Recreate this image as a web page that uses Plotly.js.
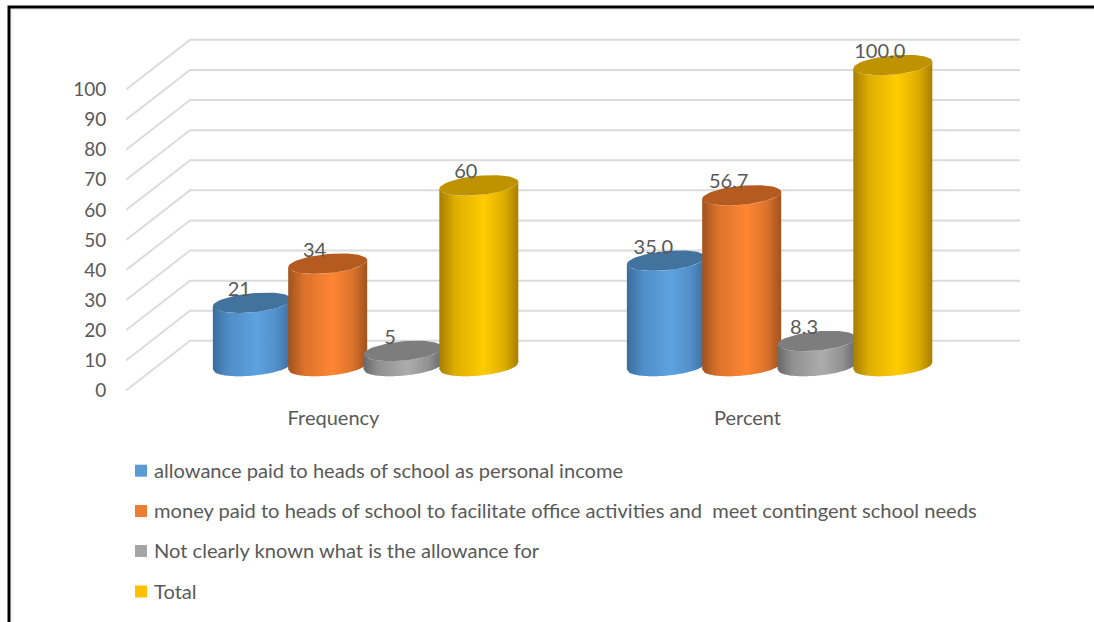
<!DOCTYPE html>
<html>
<head>
<meta charset="utf-8">
<script src="https://cdn.plot.ly/plotly-3.0.1.min.js"></script>
<style>
html, body { margin: 0; padding: 0; background: #fff; }
#chart { width: 1094px; height: 622px; }
</style>
</head>
<body>
<div id="chart"></div>
<script>
// Survey responses on the allowance paid to heads of school
const categories = ["Frequency", "Percent"];
const seriesNames = [
  "allowance paid to heads of school as personal income",
  "money paid to heads of school to facilitate office activities and  meet contingent school needs",
  "Not clearly known what is the allowance for",
  "Total"
];
const allowanceValues = [21, 35.0];
const moneyValues = [34, 56.7];
const unclearValues = [5, 8.3];
const totalValues = [60, 100.0];
const yTicks = [0, 10, 20, 30, 40, 50, 60, 70, 80, 90, 100];

const seriesValues = [allowanceValues, moneyValues, unclearValues, totalValues];
const labelDecimals = [0, 1];
const swatchColors = ["#5b9bd5", "#ed7d31", "#a5a5a5", "#ffc000"];
const lightColors = [[94, 162, 224], [255, 134, 51], [172, 172, 172], [255, 204, 0]];
const darkColors = [[58, 108, 156], [160, 82, 30], [104, 104, 104], [168, 126, 0]];
const capColors = ["#42739f", "#b55b20", "#7d7d7d", "#bf9300"];

// Pseudo-3D geometry, in pixels of the drawing area
const W = 1094, H = 622;
const M = { l: 126, r: 74, t: 30, b: 227 };
const pxPerCategory = 414, pxPerUnit = 3.01;
const firstCategoryPx = 333.5, frontZeroPx = 390.5;
const wallDepthUnits = 16.5, wallDepthPx = 64;
const cylinderFloorUnits = 8.14;
const cylinderOffsets = [-0.196, -0.014, 0.168, 0.351];
const cylinderHalf = 39.5 / pxPerCategory;
const capB = 9.6, capTilt = 3.5;
const bands = 40;

const xMin = (M.l - firstCategoryPx) / pxPerCategory;
const xMax = (W - M.r - firstCategoryPx) / pxPerCategory;
const yMax = (frontZeroPx - M.t) / pxPerUnit;
const yMin = (frontZeroPx - (H - M.b)) / pxPerUnit;

const traces = [];

// Back wall gridlines with their slanted side-wall segments
const gridX = [], gridY = [];
yTicks.forEach(v => {
  gridX.push(xMin, xMin + wallDepthPx / pxPerCategory, xMax, null);
  gridY.push(v, v + wallDepthUnits, v + wallDepthUnits, null);
});
traces.push({
  type: "scatter", mode: "lines", x: gridX, y: gridY, showlegend: false, hoverinfo: "skip",
  line: { color: "#dcdcdc", width: 2 }, cliponaxis: false
});

// Left-to-right shading across a cylinder's body
function bandColor(s, u) {
  const stops = [[0, 0], [0.2, 0.62], [0.56, 1], [0.82, 0.62], [1, 0]];
  let k = 0;
  for (let i = 0; i < stops.length - 1; i++) {
    if (u >= stops[i][0] && u <= stops[i + 1][0]) {
      k = stops[i][1] + (stops[i + 1][1] - stops[i][1]) * (u - stops[i][0]) / (stops[i + 1][0] - stops[i][0]);
    }
  }
  const c = lightColors[s].map((l, i) => Math.round(darkColors[s][i] + (l - darkColors[s][i]) * k));
  return "rgb(" + c.join(",") + ")";
}

// Height of the ellipse's front edge at a position u in [-1, 1], in value units
function frontEdge(u) {
  return (capTilt * u - capB * Math.sqrt(Math.max(0, 1 - u * u))) / pxPerUnit;
}

seriesNames.forEach((name, s) => {
  const values = seriesValues[s];
  const centers = categories.map((_, c) => c + cylinderOffsets[s]);

  for (let b = 0; b < bands; b++) {
    const u1 = -1 + 2 * b / bands;
    const u2 = Math.min(1, -1 + 2 * (b + 1.4) / bands);
    const xs = [], ys = [];
    values.forEach((v, c) => {
      const x1 = centers[c] + u1 * cylinderHalf, x2 = centers[c] + u2 * cylinderHalf;
      const floor = cylinderFloorUnits;
      xs.push(x1, x2, x2, x1, x1, null);
      ys.push(floor + v + frontEdge(u1), floor + v + frontEdge(u2),
              floor + frontEdge(u2), floor + frontEdge(u1), floor + v + frontEdge(u1), null);
    });
    traces.push({
      type: "scatter", mode: "lines", x: xs, y: ys, name: name, showlegend: false, hoverinfo: "skip",
      fill: "toself", fillcolor: bandColor(s, (b + 0.5) / bands), line: { width: 0 }
    });
  }

  // Flat top of each cylinder
  const capX = [], capY = [];
  values.forEach((v, c) => {
    for (let i = 0; i <= 64; i++) {
      const t = 2 * Math.PI * i / 64;
      capX.push(centers[c] + cylinderHalf * Math.cos(t));
      capY.push(cylinderFloorUnits + v + (capB * Math.sin(t) + capTilt * Math.cos(t)) / pxPerUnit);
    }
    capX.push(null); capY.push(null);
  });
  traces.push({
    type: "scatter", mode: "lines", x: capX, y: capY, name: name, showlegend: false, hoverinfo: "skip",
    fill: "toself", fillcolor: capColors[s], line: { width: 0 }
  });
});

// Value labels sit above the caps, slightly left of centre
seriesNames.forEach((name, s) => {
  const values = seriesValues[s];
  traces.push({
    type: "scatter", mode: "text", name: name, showlegend: false, hoverinfo: "skip", cliponaxis: false,
    x: categories.map((_, c) => c + cylinderOffsets[s] - 13 / pxPerCategory),
    y: values.map(v => cylinderFloorUnits + v + 12 / pxPerUnit),
    text: values.map((v, c) => v.toFixed(labelDecimals[c])),
    textposition: "middle center",
    textfont: { family: "Lato, sans-serif", size: 20, color: "#595959" }
  });
});

// Legend rows laid out by hand, tight swatch-to-text spacing
const plotW = W - M.l - M.r, plotH = H - M.t - M.b;
const paperX = px => (px - M.l) / plotW;
const paperY = py => (H - M.b - py) / plotH;
const legendRows = [470.7, 511, 551, 591.5];

const shapes = [];
const annotations = [];
seriesNames.forEach((name, s) => {
  const yc = legendRows[s];
  shapes.push({
    type: "rect", xref: "paper", yref: "paper",
    x0: paperX(135), x1: paperX(147), y0: paperY(yc - 6), y1: paperY(yc + 6),
    fillcolor: swatchColors[s], line: { width: 0 }
  });
  annotations.push({
    xref: "paper", yref: "paper", x: paperX(152), y: paperY(yc - 1),
    xanchor: "left", yanchor: "middle", showarrow: false, text: name,
    font: { family: "Lato, sans-serif", size: 20.1, color: "#595959" }
  });
});

// Outer frame: left and top rules with a faint inner edge
shapes.push({
  type: "path", xref: "paper", yref: "paper",
  path: "M" + paperX(12) + "," + paperY(622) + " L" + paperX(12) + "," + paperY(9.5) + " L" + paperX(1094) + "," + paperY(9.5),
  line: { color: "#ececec", width: 1 }
});
shapes.push({
  type: "path", xref: "paper", yref: "paper",
  path: "M" + paperX(9) + "," + paperY(622) + " L" + paperX(9) + "," + paperY(7) + " L" + paperX(1094) + "," + paperY(7),
  line: { color: "#000000", width: 3 }
});

const layout = {
  width: W, height: H, margin: M, showlegend: false,
  paper_bgcolor: "#ffffff", plot_bgcolor: "rgba(0,0,0,0)",
  font: { family: "Lato, sans-serif", color: "#595959" },
  xaxis: {
    range: [xMin, xMax], showgrid: false, zeroline: false, showline: false, fixedrange: true,
    tickmode: "array", tickvals: categories.map((_, i) => i), ticktext: categories,
    ticks: "outside", ticklen: 5, tickcolor: "rgba(0,0,0,0)",
    tickfont: { family: "Lato, sans-serif", size: 20, color: "#595959" }
  },
  yaxis: {
    range: [yMin, yMax], showgrid: false, zeroline: false, showline: false, fixedrange: true,
    tickmode: "array", tickvals: yTicks, ticktext: yTicks.map(String),
    ticks: "outside", ticklen: 15, tickcolor: "rgba(0,0,0,0)",
    tickfont: { family: "Lato, sans-serif", size: 19, color: "#595959" }
  },
  shapes: shapes,
  annotations: annotations
};

Plotly.newPlot("chart", traces, layout, { displayModeBar: false, staticPlot: true });
</script>
</body>
</html>
